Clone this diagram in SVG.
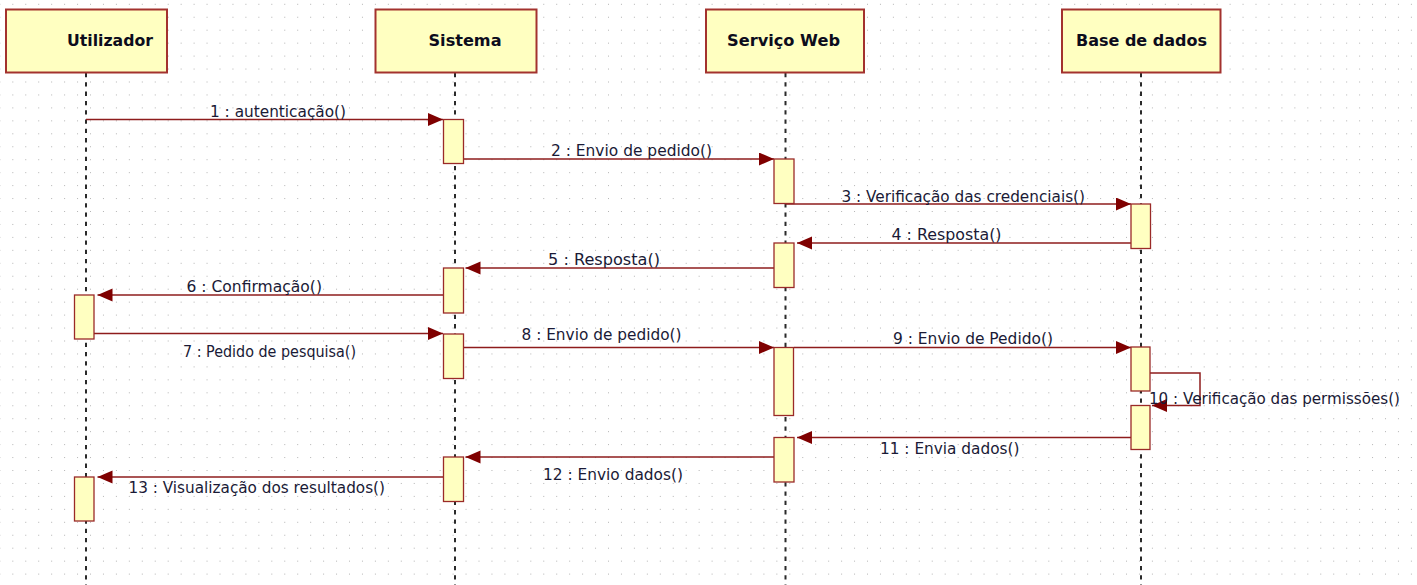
<svg xmlns="http://www.w3.org/2000/svg" width="1417" height="585" viewBox="0 0 1417 585">
  <defs>
    <!-- faint dotted drawing grid -->
    <pattern id="grid" patternUnits="userSpaceOnUse" x="12.3" y="3.8" width="12.95" height="12.95">
      <rect x="0" y="0" width="1" height="1" fill="#b4b4b4"/>
    </pattern>
    <marker id="arrow" markerUnits="userSpaceOnUse" markerWidth="16" markerHeight="14" refX="15" refY="6.5" orient="auto">
      <path d="M0,0 L15,6.5 L0,13 Z" fill="#7f0000"/>
    </marker>
    <style>
      .head { fill: #ffffc1; stroke: #a3322e; stroke-width: 2; }
      .head-text { font-family: "DejaVu Sans", Verdana, sans-serif; font-weight: bold; font-size: 16.5px; fill: #0c0c1c; }
      .life { stroke: #2a2a2a; stroke-width: 2; stroke-dasharray: 4.3 5; fill: none; }
      .act { fill: #ffffc1; stroke: #9a2a28; stroke-width: 1.3; }
      .msg { stroke: #8e1c1c; stroke-width: 1.5; fill: none; marker-end: url(#arrow); }
      .lbl { font-family: "DejaVu Sans", Verdana, sans-serif; font-size: 15.5px; fill: #1a1a36; }
    </style>
  </defs>

  <rect x="0" y="0" width="1417" height="585" fill="#ffffff"/>
  <rect x="0" y="0" width="1417" height="585" fill="url(#grid)"/>

  <!-- lifelines with their header boxes -->
  <g id="utilizador">
    <line class="life" x1="86" y1="73" x2="86" y2="585"/>
    <rect class="head" x="6" y="9.5" width="161" height="63"/>
    <text class="head-text" x="67" y="46" textLength="86" lengthAdjust="spacingAndGlyphs">Utilizador</text>
  </g>
  <g id="sistema">
    <line class="life" x1="455" y1="73" x2="455" y2="585"/>
    <rect class="head" x="375.5" y="9.5" width="161" height="63"/>
    <text class="head-text" x="428.5" y="46" textLength="73" lengthAdjust="spacingAndGlyphs">Sistema</text>
  </g>
  <g id="servico-web">
    <line class="life" x1="785.5" y1="73" x2="785.5" y2="585"/>
    <rect class="head" x="706" y="9.5" width="158" height="63"/>
    <text class="head-text" x="727" y="46" textLength="113" lengthAdjust="spacingAndGlyphs">Serviço Web</text>
  </g>
  <g id="base-de-dados">
    <line class="life" x1="1141" y1="73" x2="1141" y2="585"/>
    <rect class="head" x="1062" y="9.5" width="158.5" height="63"/>
    <text class="head-text" x="1076" y="46" textLength="131" lengthAdjust="spacingAndGlyphs">Base de dados</text>
  </g>

  <!-- messages -->
  <g id="connectors">
    <line class="msg" x1="86" y1="119.5" x2="443" y2="119.5"/>
    <line class="msg" x1="463" y1="159" x2="774" y2="159"/>
    <line class="msg" x1="785.5" y1="204" x2="1131" y2="204"/>
    <line class="msg" x1="1131" y1="243" x2="797" y2="243"/>
    <line class="msg" x1="774" y1="268" x2="465.5" y2="268"/>
    <line class="msg" x1="443" y1="295" x2="97.5" y2="295"/>
    <line class="msg" x1="94" y1="333.5" x2="443" y2="333.5"/>
    <line class="msg" x1="463" y1="347.5" x2="774" y2="347.5"/>
    <line class="msg" x1="794" y1="347.5" x2="1131" y2="347.5"/>
    <polyline class="msg" points="1150,373 1200,373 1200,405.5 1152,405.5"/>
    <line class="msg" x1="1131" y1="437.5" x2="797" y2="437.5"/>
    <line class="msg" x1="774" y1="457" x2="465.5" y2="457"/>
    <line class="msg" x1="443" y1="477" x2="97.5" y2="477"/>
  </g>

  <!-- activation bars -->
  <g id="activations">
    <rect class="act" x="443.5" y="119.5" width="20" height="44"/>
    <rect class="act" x="774" y="159" width="20" height="44.5"/>
    <rect class="act" x="1131" y="204" width="19.5" height="44.5"/>
    <rect class="act" x="774" y="243" width="20" height="44.5"/>
    <rect class="act" x="443.5" y="268" width="20" height="45"/>
    <rect class="act" x="74.5" y="295" width="19.5" height="44"/>
    <rect class="act" x="443.5" y="334" width="20" height="44.5"/>
    <rect class="act" x="774" y="347.5" width="19.5" height="68"/>
    <rect class="act" x="1131" y="347" width="19" height="44"/>
    <rect class="act" x="1131" y="405.5" width="19" height="44"/>
    <rect class="act" x="774" y="437.5" width="20" height="44.5"/>
    <rect class="act" x="443.5" y="457" width="20" height="44.5"/>
    <rect class="act" x="74.5" y="477" width="19.5" height="44"/>
  </g>

  <!-- message labels -->
  <g id="labels">
    <text class="lbl" x="210" y="117" textLength="136" lengthAdjust="spacingAndGlyphs">1 : autenticação()</text>
    <text class="lbl" x="551" y="156" textLength="161" lengthAdjust="spacingAndGlyphs">2 : Envio de pedido()</text>
    <text class="lbl" x="841.5" y="202" textLength="243.5" lengthAdjust="spacingAndGlyphs">3 : Verificação das credenciais()</text>
    <text class="lbl" x="891.5" y="240" textLength="110" lengthAdjust="spacingAndGlyphs">4 : Resposta()</text>
    <text class="lbl" x="548" y="265" textLength="112" lengthAdjust="spacingAndGlyphs">5 : Resposta()</text>
    <text class="lbl" x="186.5" y="292" textLength="135.5" lengthAdjust="spacingAndGlyphs">6 : Confirmação()</text>
    <text class="lbl" x="183" y="357" textLength="173" lengthAdjust="spacingAndGlyphs">7 : Pedido de pesquisa()</text>
    <text class="lbl" x="521.5" y="340" textLength="160" lengthAdjust="spacingAndGlyphs">8 : Envio de pedido()</text>
    <text class="lbl" x="893" y="344" textLength="160" lengthAdjust="spacingAndGlyphs">9 : Envio de Pedido()</text>
    <text class="lbl" x="1149" y="404" textLength="251" lengthAdjust="spacingAndGlyphs">10 : Verificação das permissões()</text>
    <text class="lbl" x="880" y="454" textLength="139.5" lengthAdjust="spacingAndGlyphs">11 : Envia dados()</text>
    <text class="lbl" x="543" y="480" textLength="140" lengthAdjust="spacingAndGlyphs">12 : Envio dados()</text>
    <text class="lbl" x="128.5" y="493" textLength="256.5" lengthAdjust="spacingAndGlyphs">13 : Visualização dos resultados()</text>
  </g>
</svg>
